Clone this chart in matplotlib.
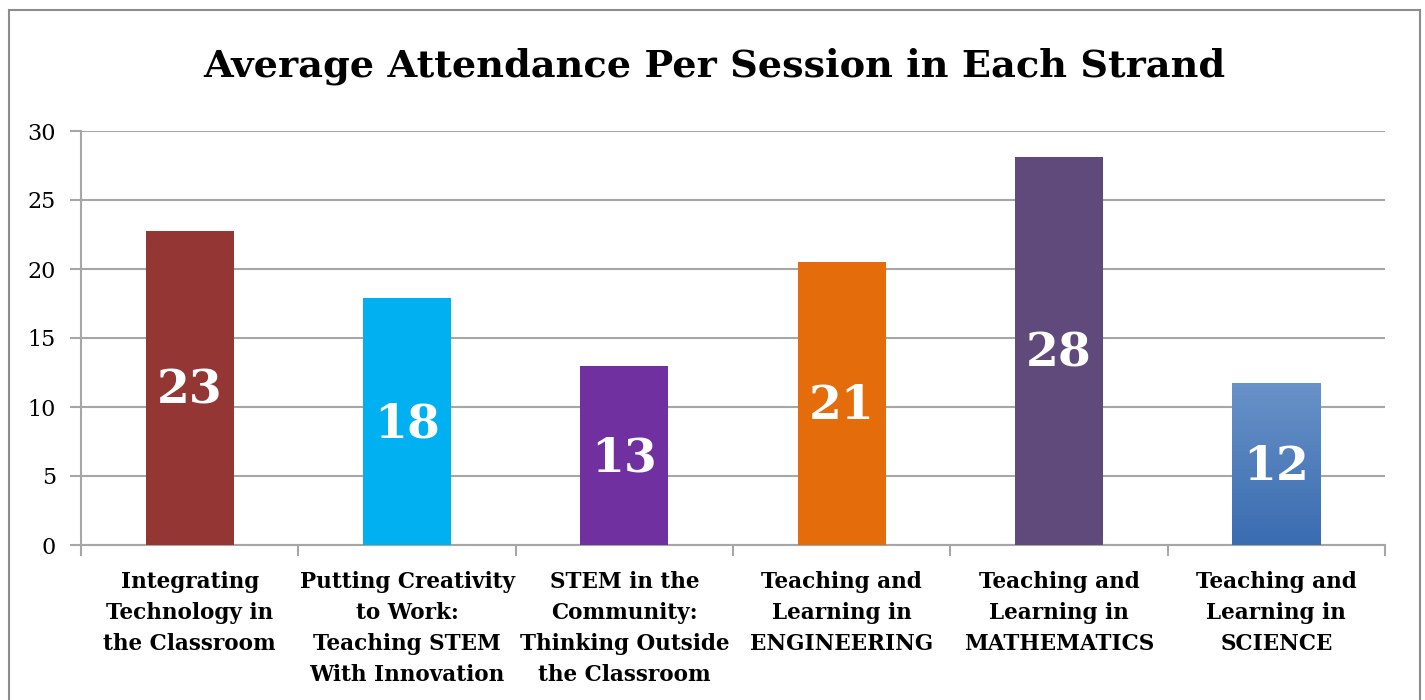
import numpy as np
import matplotlib.pyplot as plt
from matplotlib.lines import Line2D
from matplotlib.colors import LinearSegmentedColormap

# === DATA ===
strands = [
    "Integrating\nTechnology in\nthe Classroom",
    "Putting Creativity\nto Work:\nTeaching STEM\nWith Innovation",
    "STEM in the\nCommunity:\nThinking Outside\nthe Classroom",
    "Teaching and\nLearning in\nENGINEERING",
    "Teaching and\nLearning in\nMATHEMATICS",
    "Teaching and\nLearning in\nSCIENCE",
]
attendance = [22.75, 17.9, 13.0, 20.5, 28.1, 11.75]
bar_labels = ["23", "18", "13", "21", "28", "12"]
bar_colors = ["#943634", "#00B0F0", "#7030A0", "#E46C0A", "#604A7B", "#4A7FC0"]
y_ticks = [0, 5, 10, 15, 20, 25, 30]

plt.rcParams['font.family'] = ['DejaVu Serif']

fig = plt.figure(figsize=(14.25, 7), dpi=100)
ax = fig.add_axes([81 / 1425, 1 - 545 / 700, (1385 - 81) / 1425, (545 - 131) / 700])

x = np.arange(len(strands))
bars = ax.bar(x, attendance, width=0.405, color=bar_colors, zorder=3)

# last bar has a light (top) to dark (bottom) blue gradient
last = bars[-1]
last.set_facecolor('none')
grad = np.linspace(0, 1, 256).reshape(-1, 1)
cmap = LinearSegmentedColormap.from_list('blu', ['#3A6CB1', '#6992C8'])
bx, by = last.get_x(), last.get_y()
img = ax.imshow(grad, cmap=cmap, aspect='auto', zorder=3, origin='lower',
                extent=[bx, bx + last.get_width(), by, by + last.get_height()])
img.set_clip_path(last)

for b, lab in zip(bars, bar_labels):
    ax.text(b.get_x() + b.get_width() / 2, b.get_height() / 2 - 0.2, lab,
            ha='center', va='center', color='white', fontsize=34,
            fontweight='bold', zorder=4)

ax.set_xlim(-0.5, len(strands) - 0.5)
ax.set_ylim(0, 30)
ax.set_yticks(y_ticks)
ax.set_yticklabels([str(t) for t in y_ticks], fontsize=16)
ax.yaxis.grid(True, color='#A6A6A6', linewidth=1.5, zorder=0)

ax.set_xticks(x)
ax.set_xticklabels(strands, fontsize=15.5, fontweight='bold', linespacing=1.52)
ax.set_xticks(np.arange(-0.5, len(strands)), minor=True)
ax.tick_params(axis='x', which='major', length=0, pad=19)
ax.tick_params(axis='x', which='minor', length=8, width=1.5, color='#A6A6A6')
ax.tick_params(axis='y', length=8, width=1.5, color='#A6A6A6', pad=10)

for side in ['top', 'right']:
    ax.spines[side].set_visible(False)
for side in ['left', 'bottom']:
    ax.spines[side].set_color('#A6A6A6')
    ax.spines[side].set_linewidth(1.5)

fig.text(0.501, 1 - 66 / 700, "Average Attendance Per Session in Each Strand",
         ha='center', va='center', fontsize=27.5, fontweight='bold')

# outer chart border
bc = '#8C8C8C'
fig.add_artist(Line2D([9 / 1425, 9 / 1425], [0, 1 - 10 / 700], color=bc, lw=1.5))
fig.add_artist(Line2D([9 / 1425, 1420 / 1425], [1 - 10 / 700, 1 - 10 / 700], color=bc, lw=1.5))
fig.add_artist(Line2D([1420 / 1425, 1420 / 1425], [0, 1 - 10 / 700], color=bc, lw=1.5))

fig.savefig('out.png', dpi=100)
